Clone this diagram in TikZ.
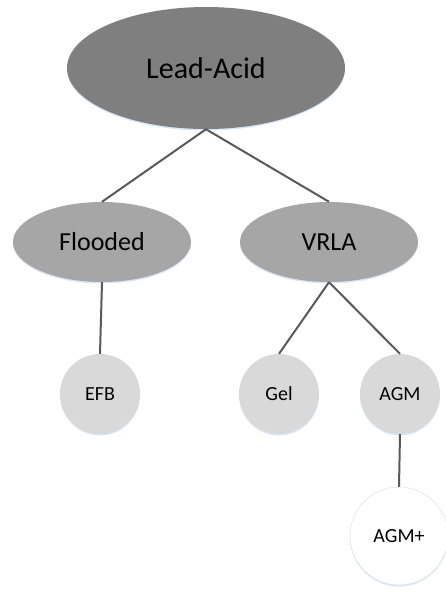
\documentclass[tikz,border=0pt]{standalone}
\usepackage{fontspec}
\setmainfont{Carlito}
\usepackage{xcolor}
\usepackage{tikz}
\usetikzlibrary{positioning,shapes.geometric,shadows}
\definecolor{rootgray}{HTML}{7F7F7F}
\definecolor{midgray}{HTML}{A6A6A6}
\definecolor{leafgray}{HTML}{D9D9D9}
\definecolor{linkgray}{HTML}{595959}
\definecolor{glowblue}{HTML}{C9DDF0}
\tikzset{
  glow/.style     = {drop shadow={shadow xshift=0pt, shadow yshift=-1.5pt, fill=glowblue, opacity=0.7}},
  rootnode/.style = {ellipse, draw=none, fill=rootgray, glow, inner sep=0pt,
                     minimum width=278pt, minimum height=122pt, font=\fontsize{30}{35}\selectfont},
  typenode/.style = {ellipse, draw=none, fill=midgray, glow, inner sep=0pt,
                     minimum width=178pt, minimum height=80pt, font=\fontsize{26}{31}\selectfont},
  leafnode/.style = {circle, draw=none, fill=leafgray, glow, inner sep=0pt,
                     minimum size=80pt, font=\fontsize{20}{24}\selectfont},
  subleaf/.style  = {circle, draw=black!12, line width=0.5pt, fill=white, glow, inner sep=0pt,
                     minimum size=98pt, font=\fontsize{20}{24}\selectfont},
  link/.style     = {draw=linkgray, line width=2pt},
}

\begin{document}
\begin{tikzpicture}[x=1pt,y=-1pt]
  \useasboundingbox (0,0) rectangle (445,595);

  % ---------- top level ----------
  \node[rootnode] (lead) at (206,68) {Lead-Acid};

  % ---------- battery types ----------
  \node[typenode] (flooded) at (102,242) {Flooded};
  \node[typenode] (vrla) at (329,242) {VRLA};

  % ---------- variants ----------
  \node[leafnode] (efb) at (100,394) {EFB};
  \node[leafnode] (gel) at (279,394) {Gel};
  \node[leafnode] (agm) at (400,394) {AGM};
  \node[subleaf] (agmplus) at (399,536) {AGM+};

  % links
  \draw[link] (lead.south) -- (flooded.north);
  \draw[link] (lead.south) -- (vrla.north);
  \draw[link] (flooded.south) -- (efb.north);
  \draw[link] (vrla.south) -- (gel.north);
  \draw[link] (vrla.south) -- (agm.north);
  \draw[link] (agm.south) -- (agmplus.north);
\end{tikzpicture}
\end{document}
